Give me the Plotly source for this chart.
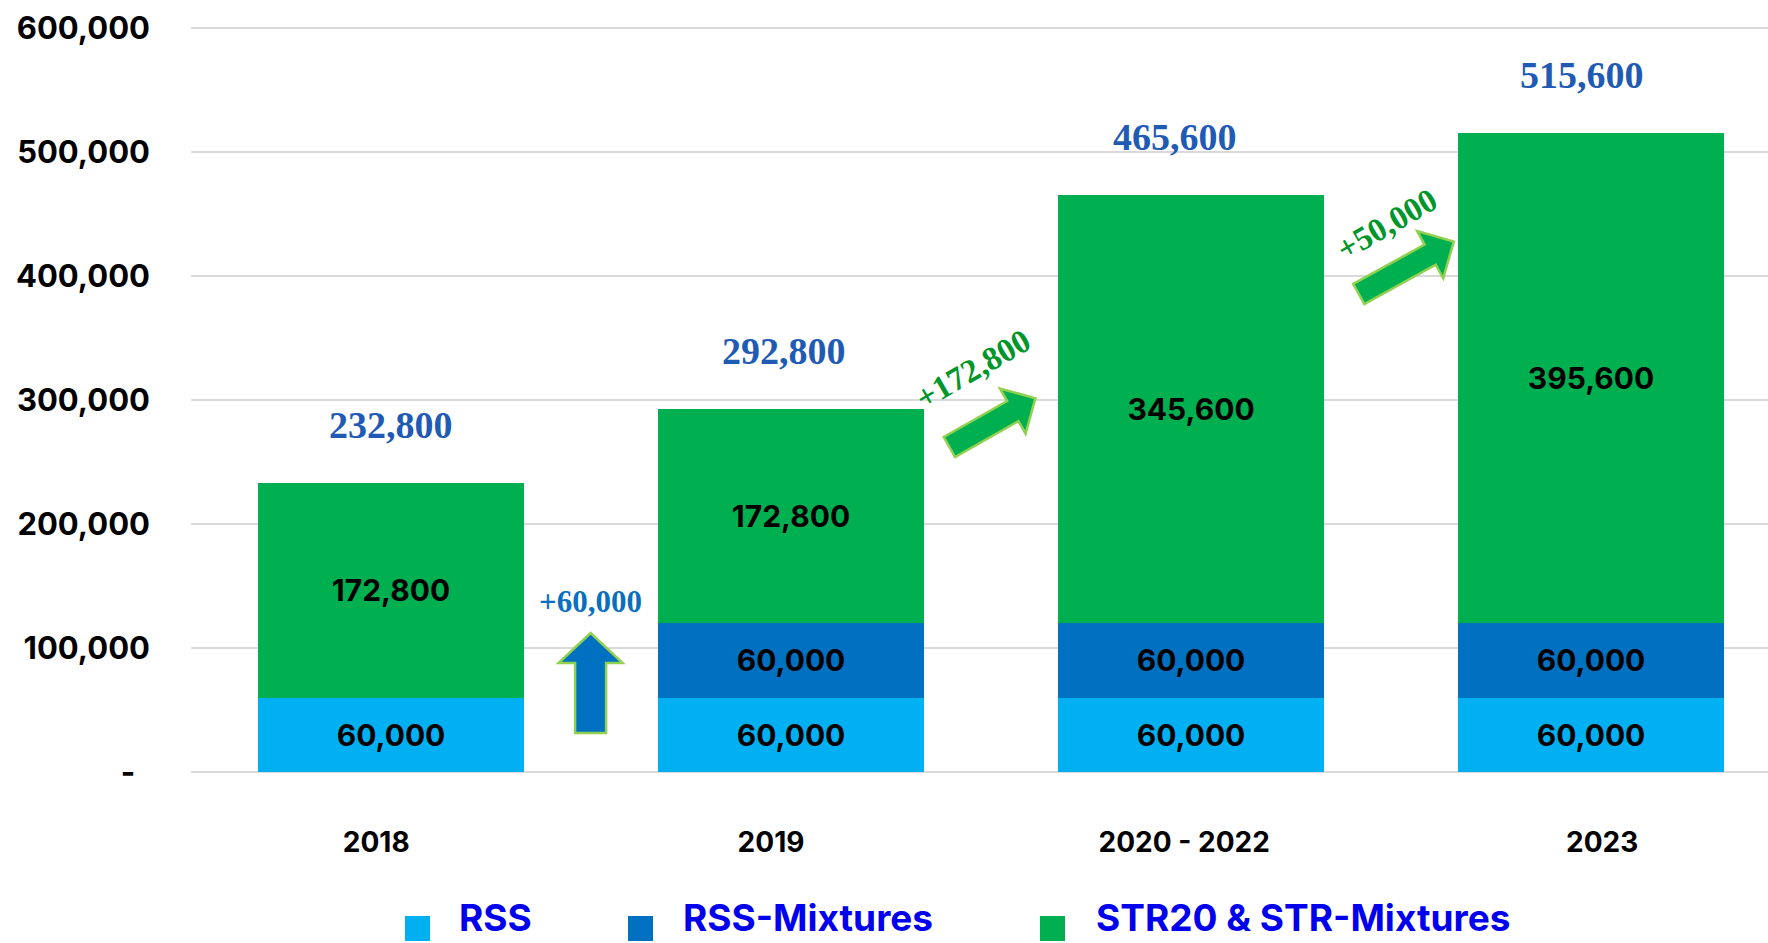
import math
import plotly.graph_objects as go

# ---------------- data ----------------
categories = ["2018", "2019", "2020 - 2022", "2023"]
series_names = ["RSS", "RSS-Mixtures", "STR20 & STR-Mixtures"]
rss = [60000, 60000, 60000, 60000]
rss_mixtures = [0, 60000, 60000, 60000]
str_mixtures = [172800, 172800, 345600, 395600]
y_tick_vals = [0, 100000, 200000, 300000, 400000, 500000, 600000]
y_tick_text = ["-\u00a0\u00a0", "100,000", "200,000", "300,000", "400,000", "500,000", "600,000"]

totals = [a + b + c for a, b, c in zip(rss, rss_mixtures, str_mixtures)]
increments = [totals[i + 1] - totals[i] for i in range(len(totals) - 1)]

# ---------------- layout geometry ----------------
W, H = 1768, 943
PL, PR = 191, 1768          # plot area left/right (px)
PT, PB = 4, 775             # plot area top/bottom (px)
KX = 400.0                  # px per category unit
KY = 124.0 / 100000.0       # px per value unit
x_range = [-0.5, -0.5 + (PR - PL) / KX]
y_min = -(PB - 772) / KY
y_range = [y_min, y_min + (PB - PT) / KY]
xlabel_offsets = [-0.037, -0.05, -0.017, 0.028]   # category label placement tweaks
total_xshift = [0, -7, -16, -9]                   # px tweaks of total labels

C_RSS = "#00B0F0"
C_MIX = "#0070C0"
C_STR = "#00B050"
C_OUTLINE = "#92D050"
C_TOTAL = "#1F5BB5"
C_INC_BLUE = "#0B6FC0"
C_INC_GREEN = "#00962A"
C_LEGEND = "#0000EE"
NUM_FONT = "Inter"
SERIF = "Liberation Serif"

xs = list(range(len(categories)))

def fmt(v):
    return f"{v:,}" if v else ""

fig = go.Figure()
for name, vals, col in zip(series_names, [rss, rss_mixtures, str_mixtures], [C_RSS, C_MIX, C_STR]):
    fig.add_trace(go.Bar(
        x=xs, y=[v if v else None for v in vals], name=name,
        marker=dict(color=col, line=dict(width=0)),
        width=0.665,
        text=[fmt(v) for v in vals],
        textposition="inside", insidetextanchor="middle", textangle=0,
        textfont=dict(family=NUM_FONT, size=30, color="black", weight=700),
        showlegend=False, hoverinfo="skip",
    ))

annotations = []
# totals above bars
for x, t, xsh in zip(xs, totals, total_xshift):
    annotations.append(dict(
        x=x, y=t, xref="x", yref="y", text=f"{t:,}", showarrow=False,
        yanchor="middle", yshift=58, xshift=xsh,
        font=dict(family=SERIF, size=38, color=C_TOTAL, weight=700),
    ))

# increment labels
inc_label_pos = [(0.499, 137900, 0), (1.456, 325000, -30), (2.491, 441900, -30)]
inc_colors = [C_INC_BLUE, C_INC_GREEN, C_INC_GREEN]
inc_sizes = [31, 33, 33]
for (ix, iy, ang), inc, col, sz in zip(inc_label_pos, increments, inc_colors, inc_sizes):
    annotations.append(dict(
        x=ix, y=iy, xref="x", yref="y", text=f"+{inc:,}", showarrow=False,
        textangle=ang, xanchor="center", yanchor="middle",
        font=dict(family=SERIF, size=sz, color=col, weight=700),
    ))

# block arrows (decorative)
def block_arrow(x0, y0, x1, y1, shaft, head, headlen):
    X0, Y0, X1, Y1 = x0 * KX, y0 * KY, x1 * KX, y1 * KY
    dx, dy = X1 - X0, Y1 - Y0
    L = math.hypot(dx, dy)
    ux, uy = dx / L, dy / L
    nx, ny = -uy, ux
    bx, by = X1 - ux * headlen, Y1 - uy * headlen
    s, h = shaft / 2, head / 2
    pts = [(X0 + nx * s, Y0 + ny * s), (bx + nx * s, by + ny * s), (bx + nx * h, by + ny * h),
           (X1, Y1), (bx - nx * h, by - ny * h), (bx - nx * s, by - ny * s), (X0 - nx * s, Y0 - ny * s)]
    return "M " + " L ".join(f"{px / KX:.5f},{py / KY:.2f}" for px, py in pts) + " Z"

arrows = [
    ((0.499, 31450, 0.499, 112100), 31, 64, 30, C_MIX),
    ((1.396, 262100, 1.611, 301400), 23, 52, 26, C_STR),
    ((2.4195, 385500, 2.657, 427700), 23, 54, 27, C_STR),
]
shapes = []
for (x0, y0, x1, y1), s, h, hl, col in arrows:
    shapes.append(dict(type="path", xref="x", yref="y", path=block_arrow(x0, y0, x1, y1, s, h, hl),
                       fillcolor=col, line=dict(color=C_OUTLINE, width=2.5), layer="above"))

# manual legend
def px2paper_x(px):
    return (px - PL) / (PR - PL)

def px2paper_y(py):
    return (PB - py) / (PB - PT)

legend_sq_x = [405, 628, 1040]
legend_txt_x = [457, 681, 1094]
sq_size = 25
sq_top = 916
for name, col, sx, tx in zip(series_names, [C_RSS, C_MIX, C_STR], legend_sq_x, legend_txt_x):
    shapes.append(dict(type="rect", xref="paper", yref="paper",
                       x0=px2paper_x(sx), x1=px2paper_x(sx + sq_size),
                       y0=px2paper_y(sq_top), y1=px2paper_y(sq_top + sq_size),
                       fillcolor=col, line=dict(width=0)))
    annotations.append(dict(
        x=px2paper_x(tx), y=px2paper_y(917), xref="paper", yref="paper",
        text=name, showarrow=False, xanchor="left", yanchor="middle",
        font=dict(family=NUM_FONT, size=37, color=C_LEGEND, weight=700),
    ))

fig.update_layout(
    width=W, height=H, barmode="stack",
    margin=dict(l=PL, r=W - PR, t=PT, b=H - PB, pad=0),
    paper_bgcolor="white", plot_bgcolor="white",
    xaxis=dict(range=x_range, tickvals=[x + o for x, o in zip(xs, xlabel_offsets)], ticktext=categories,
               showgrid=False, zeroline=False,
               showline=False, ticks="", ticklabelstandoff=48,
               tickfont=dict(family=NUM_FONT, size=28, color="black", weight=700)),
    yaxis=dict(range=y_range, tickvals=y_tick_vals, ticktext=y_tick_text, showgrid=True,
               gridcolor="#D9D9D9", gridwidth=2, zeroline=False, showline=False, ticks="",
               ticklabelstandoff=40,
               tickfont=dict(family=NUM_FONT, size=31, color="black", weight=700)),
    annotations=annotations, shapes=shapes,
    showlegend=False,
)

fig.write_html("out.html", config={"displayModeBar": False},
               post_script="document.body.style.margin='0';document.body.style.overflow='hidden';")
